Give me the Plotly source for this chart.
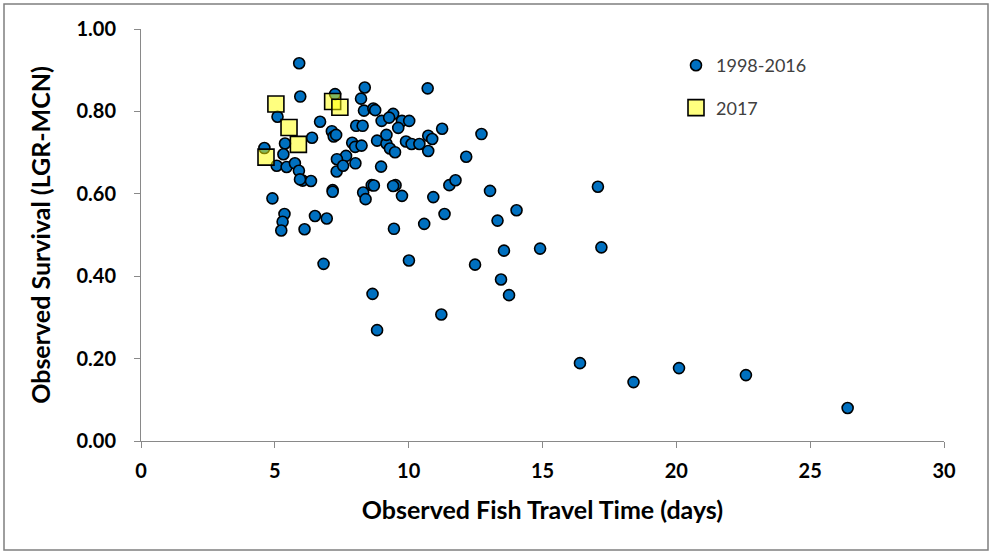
import plotly.graph_objects as go

# 1998-2016 observations: travel time (days), survival
travel_hist = [5.91, 5.95, 7.25, 8.36, 8.22, 8.33, 8.68, 8.75, 5.10, 6.69,
               8.99, 8.04, 8.28, 7.13, 7.20, 7.29, 6.39, 7.89, 8.00, 8.24,
               8.82, 9.17, 5.38, 4.61, 5.32, 7.66, 7.32, 8.01, 8.97, 5.07,
               5.44, 5.75, 5.90, 7.31, 7.55, 6.04, 6.35, 5.94, 7.16, 7.16,
               8.62, 8.70, 4.91, 5.36, 5.29, 5.24, 6.11, 6.50, 6.94, 6.82,
               8.30, 8.39, 8.65, 9.51, 9.42, 9.75, 9.45, 10.01, 10.58, 10.92,
               11.34, 11.52, 11.75, 10.73, 12.15, 10.71, 9.42, 9.27, 9.75, 10.02,
               9.61, 11.25, 12.72, 9.17, 10.73, 10.88, 9.90, 10.11, 10.40, 9.30,
               9.49, 13.04, 14.03, 13.32, 14.91, 13.56, 12.48, 13.45, 13.75, 11.22,
               8.82, 17.07, 17.20, 16.40, 18.40, 20.10, 22.60, 26.40]
survival_hist = [0.917, 0.836, 0.842, 0.858, 0.831, 0.802, 0.807, 0.803, 0.787, 0.775,
                 0.777, 0.765, 0.765, 0.752, 0.739, 0.743, 0.736, 0.724, 0.714, 0.717,
                 0.729, 0.722, 0.722, 0.711, 0.696, 0.692, 0.684, 0.674, 0.666, 0.668,
                 0.665, 0.674, 0.656, 0.654, 0.668, 0.632, 0.631, 0.635, 0.609, 0.605,
                 0.621, 0.620, 0.589, 0.551, 0.532, 0.511, 0.514, 0.546, 0.540, 0.430,
                 0.603, 0.587, 0.357, 0.621, 0.619, 0.595, 0.515, 0.438, 0.527, 0.592,
                 0.551, 0.621, 0.633, 0.704, 0.690, 0.856, 0.794, 0.785, 0.777, 0.777,
                 0.760, 0.758, 0.745, 0.743, 0.741, 0.733, 0.727, 0.721, 0.721, 0.710,
                 0.701, 0.607, 0.560, 0.535, 0.467, 0.462, 0.428, 0.392, 0.354, 0.307,
                 0.269, 0.617, 0.470, 0.189, 0.143, 0.177, 0.160, 0.080]

# 2017 observations
travel_2017 = [5.04, 7.16, 7.43, 5.53, 5.88, 4.67]
survival_2017 = [0.818, 0.824, 0.810, 0.761, 0.720, 0.689]

x_ticks = [0, 5, 10, 15, 20, 25, 30]
y_ticks = [0.0, 0.2, 0.4, 0.6, 0.8, 1.0]

W, H = 992, 554
ML, MR, MT, MB = 141, 48, 29, 113
pw, ph = W - ML - MR, H - MT - MB

FONT = "Lato, 'Open Sans', sans-serif"

fig = go.Figure()
fig.add_trace(go.Scatter(
    x=travel_hist, y=survival_hist, mode="markers", name="1998-2016",
    legendgroup="a",
    marker=dict(symbol="circle", size=11, color="#0070C0",
                line=dict(color="#000000", width=1.6)),
))
fig.add_trace(go.Scatter(
    x=travel_2017, y=survival_2017, mode="markers", name="2017",
    legendgroup="b",
    marker=dict(symbol="square", size=16, color="rgba(255,255,0,0.5)",
                line=dict(color="#000000", width=1.6)),
))

axis_font = dict(family=FONT, size=20, color="#000000")
title_font = dict(family=FONT, size=25, color="#000000")

fig.update_xaxes(
    range=[0, 30], tickvals=x_ticks, ticktext=[f"<b>{v}</b>" for v in x_ticks],
    showgrid=False, zeroline=False, showline=True, linecolor="#898989", linewidth=1,
    ticks="outside", ticklen=6, tickcolor="#898989", ticklabelstandoff=6,
    tickfont=axis_font, title=dict(text="<b>Observed Fish Travel Time (days)</b>",
                                   font=title_font, standoff=20),
)
fig.update_yaxes(
    range=[0, 1], tickvals=y_ticks, ticktext=[f"<b>{v:.2f}</b>" for v in y_ticks],
    showgrid=False, zeroline=False, showline=True, linecolor="#898989", linewidth=1,
    ticks="outside", ticklen=6, tickcolor="#898989", ticklabelstandoff=14,
    tickfont=axis_font, title=dict(text="<b>Observed Survival (LGR-MCN)</b>",
                                   font=title_font, standoff=18),
)

# outer frame around the chart
fig.add_shape(type="rect", xref="paper", yref="paper",
              x0=(4 - ML) / pw, x1=(988 - ML) / pw,
              y0=(H - MB - 550) / ph, y1=(H - MB - 4) / ph,
              line=dict(color="#7f7f7f", width=1.5), fillcolor="rgba(0,0,0,0)", layer="below")

fig.update_layout(
    width=W, height=H,
    margin=dict(l=ML, r=MR, t=MT, b=MB),
    paper_bgcolor="white", plot_bgcolor="white",
    font=dict(family=FONT),
    showlegend=True,
    legend=dict(x=(676 - ML) / pw, y=(H - MB - 47) / ph, xanchor="left", yanchor="top",
                bgcolor="rgba(0,0,0,0)", traceorder="grouped", tracegroupgap=16,
                itemwidth=30,
                font=dict(family=FONT, size=18, color="#404040")),
)

fig.write_html("out.html")
